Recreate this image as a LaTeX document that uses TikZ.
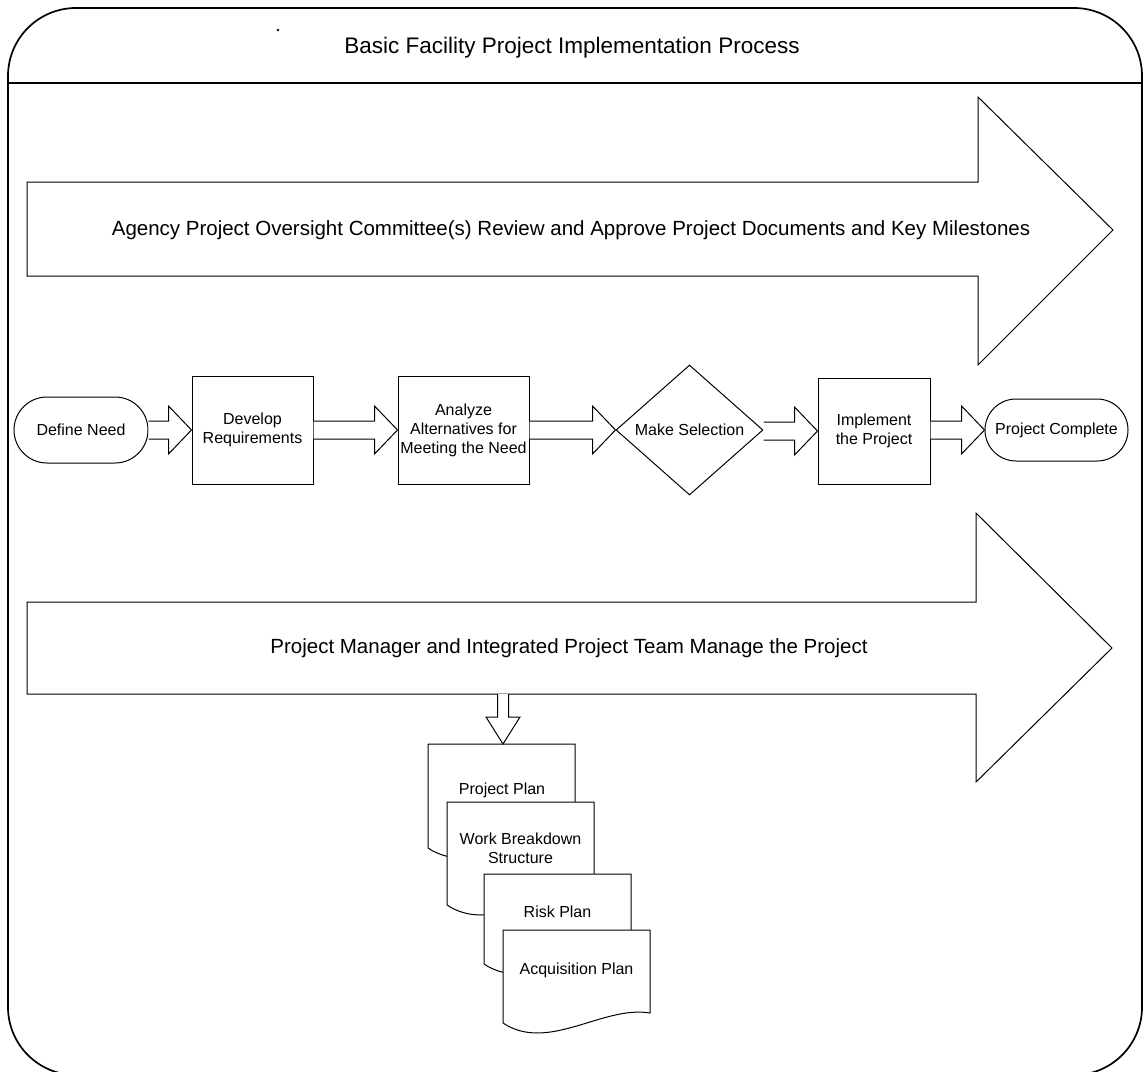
\documentclass[tikz,border=0pt]{standalone}
\usepackage{fontspec}
\setmainfont{Liberation Sans}
\usetikzlibrary{shapes.geometric,shapes.misc,calc}
\newcommand\pfTitle{\fontsize{22.5}{26}\selectfont}
\newcommand\pfBig{\fontsize{20.5}{24}\selectfont}
\newcommand\pfSmall{\fontsize{16}{19}\selectfont}
\tikzset{
  ln/.style={draw=black,line width=1pt,line join=miter},
  frameline/.style={draw=black,line width=1.7pt},
  procbox/.style={ln,fill=white,rectangle,inner sep=2pt,align=center,font=\pfSmall},
  termbox/.style={ln,fill=white,rounded rectangle,inner sep=2pt,align=center,font=\pfSmall},
  decbox/.style={ln,fill=white,diamond,inner sep=0pt,align=center,font=\pfSmall},
  bigtext/.style={font=\pfBig,inner sep=0pt},
  titletext/.style={font=\pfTitle,inner sep=0pt},
  doctext/.style={font=\pfSmall,align=center,inner sep=0pt},
  blockarrow/.style={ln,fill=white},
  docshape/.style={ln,fill=white}
}
% horizontal block arrow from node #1 (east side) to node #2 (west point)
\newcommand\hblock[2]{%
  \path (#1.east |- #2.west) coordinate (hbA);
  \draw[blockarrow] ($(hbA)+(0,-9)$) -- ($(#2.west)+(-23,-9)$) -- ($(#2.west)+(-23,-24)$)
    -- (#2.west) -- ($(#2.west)+(-23,24)$) -- ($(#2.west)+(-23,9)$) -- ($(hbA)+(0,9)$);}
% document shape: top-left corner (#1,#2), left side height #3
\newcommand\docshp[3]{%
  \begin{scope}[shift={(#1,#2)}]
    \draw[docshape] (0,0) -- (147,0) -- (147,#3-10) .. controls (100,#3-18) and (45,#3+30) .. (0,#3) -- cycle;
  \end{scope}}
\begin{document}
\begin{tikzpicture}[x=1pt,y=-1pt]
\useasboundingbox (0,0) rectangle (1143,1071);
\fill[white] (0,0) rectangle (1143,1071);

% outer frame and header
\draw[frameline,rounded corners=68pt] (8,8) rectangle (1142,1075);
\draw[frameline] (8,83) -- (1142,83);
\node[titletext] (title) at (572,48) {Basic Facility Project Implementation Process};
\fill (278,30) circle (1.4);

% top big arrow
\draw[ln] (27,182) -- (978,182) -- (978,97) -- (1113,230) -- (978,365) -- (978,276) -- (27,276) -- cycle;
\node[bigtext] (oversight) at (571,230) {Agency Project Oversight Committee(s) Review and Approve Project Documents and Key Milestones};

% bottom big arrow
\draw[ln] (27,602) -- (976,602) -- (976,513) -- (1112,648) -- (976,782) -- (976,694) -- (27,694) -- cycle;
\node[bigtext] (manage) at (569,648) {Project Manager and Integrated Project Team Manage the Project};
\coordinate (drop) at (503,694);

% process row
\node[termbox,minimum width=138pt,minimum height=66pt] (dn) at (81,430) {Define Need};
\node[procbox,minimum width=121pt,minimum height=108pt] (dr) at (252.5,430) {Develop\\Requirements};
\node[procbox,minimum width=131pt,minimum height=108pt] (aa) at (463.5,430) {Analyze\\Alternatives for\\Meeting the Need};
\node[decbox,minimum width=147pt,minimum height=130pt] (ms) at (689.5,430) {Make Selection};
\node[procbox,minimum width=112pt,minimum height=106pt] (ip) at (874,431) {Implement\\the Project};
\node[termbox,minimum width=147pt,minimum height=62pt] (pc) at (1056.5,430) {Project Complete};

\hblock{dn}{dr}
\hblock{dr}{aa}
\hblock{aa}{ms}
\hblock{ms}{ip}
\hblock{ip}{pc}

% documents
\docshp{428}{744}{104}
\node[doctext] (d1) at (502,790) {Project Plan};
\docshp{447}{802}{103}
\node[doctext] (d2) at (520.5,848) {Work Breakdown\\Structure};
\docshp{484}{874}{90}
\node[doctext] (d3) at (557.5,912) {Risk Plan};
\docshp{503}{930}{93}
\node[doctext] (d4) at (576.5,970) {Acquisition Plan};
\coordinate (d1top) at (503,744);

% drop arrow from manager arrow to project plan
\draw[blockarrow] ($(drop)+(-5.5,0)$) -- ($(d1top)+(-5.5,-27)$) -- ($(d1top)+(-17,-27)$)
  -- (d1top) -- ($(d1top)+(17,-27)$) -- ($(d1top)+(5.5,-27)$) -- ($(drop)+(5.5,0)$);
\end{tikzpicture}
\end{document}
